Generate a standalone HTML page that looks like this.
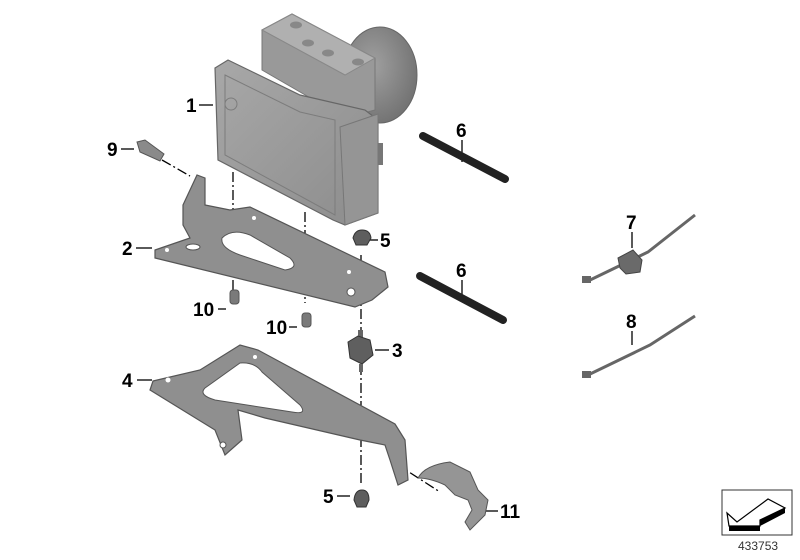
<!DOCTYPE html>
<html><head><meta charset="utf-8"><style>
html,body{margin:0;padding:0;background:#fff;}
svg{display:block;}
text{font-family:"Liberation Sans",sans-serif;font-weight:bold;font-size:19px;fill:#000;}
</style></head><body>
<svg width="800" height="560" viewBox="0 0 800 560" xmlns="http://www.w3.org/2000/svg">
<defs>
<linearGradient id="g1" x1="0" y1="0" x2="1" y2="1"><stop offset="0" stop-color="#a8a8a8"/><stop offset="1" stop-color="#8c8c8c"/></linearGradient>
<radialGradient id="g2" cx="0.4" cy="0.4" r="0.7"><stop offset="0" stop-color="#a0a0a0"/><stop offset="1" stop-color="#6e6e6e"/></radialGradient>
</defs>
<g stroke="#000" stroke-width="1.3" fill="none">
<line x1="199" y1="105" x2="213" y2="105"/>
<line x1="121" y1="149" x2="134" y2="149"/>
<line x1="462" y1="140" x2="462" y2="162"/>
<line x1="462" y1="280" x2="462" y2="300"/>
<line x1="364" y1="240" x2="378" y2="240"/>
<line x1="136" y1="248" x2="152" y2="248"/>
<line x1="632" y1="232" x2="632" y2="248"/>
<line x1="632" y1="331" x2="632" y2="345"/>
<line x1="375" y1="350" x2="389" y2="350"/>
<line x1="218" y1="309" x2="226" y2="309"/>
<line x1="289" y1="327" x2="297" y2="327"/>
<line x1="137" y1="380" x2="152" y2="380"/>
<line x1="337" y1="496" x2="350" y2="496"/>
<line x1="482" y1="511" x2="498" y2="511"/>
<g stroke-dasharray="10,3,2,3">
<line x1="233" y1="172" x2="233" y2="296"/>
<line x1="305" y1="212" x2="305" y2="303"/>
<line x1="361" y1="255" x2="361" y2="330"/>
<line x1="361" y1="365" x2="361" y2="485"/>
<line x1="162" y1="160" x2="190" y2="176"/>
<line x1="395" y1="463" x2="440" y2="492"/>
</g>
</g>
<ellipse cx="380" cy="75" rx="37" ry="48" fill="url(#g2)" stroke="#666"/>
<polygon points="262,30 292,14 375,58 375,110 345,118 262,70" fill="#999" stroke="#777"/>
<polygon points="262,30 292,14 375,58 345,75" fill="#b0b0b0" stroke="#888"/>
<ellipse cx="296" cy="25" rx="6" ry="3.5" fill="#888"/>
<ellipse cx="308" cy="43" rx="6" ry="3.5" fill="#888"/>
<ellipse cx="328" cy="53" rx="6" ry="3.5" fill="#888"/>
<ellipse cx="358" cy="62" rx="6" ry="3.5" fill="#888"/>
<polygon points="215,68 228,60 300,95 365,110 378,120 378,213 345,225 333,220 218,160" fill="url(#g1)" stroke="#666" stroke-width="1.2"/>
<polygon points="340,127 378,114 378,213 345,225" fill="#959595" stroke="#777"/>
<polygon points="225,75 300,112 335,120 335,215 225,155" fill="none" stroke="#7c7c7c"/>
<circle cx="231" cy="104" r="6" fill="none" stroke="#7c7c7c"/>
<rect x="378" y="143" width="5" height="22" fill="#777"/>
<polygon points="137,142 145,140 164,154 160,161 140,152" fill="#8a8a8a" stroke="#555"/>
<polygon points="155,250 190,238 183,225 183,205 197,175 205,178 205,205 230,210 250,207 385,272 388,287 372,300 355,307 155,258" fill="#8f8f8f" stroke="#555" stroke-width="1.2"/>
<path d="M222,238 Q232,228 250,235 L290,258 Q300,268 285,270 L240,255 Q220,248 222,238Z" fill="#fff" stroke="#555"/>
<ellipse cx="193" cy="247" rx="7" ry="3" fill="#fff" stroke="#555"/>
<circle cx="167" cy="250" r="2" fill="#fff"/><circle cx="254" cy="218" r="2" fill="#fff"/><circle cx="349" cy="272" r="2" fill="#fff"/><circle cx="351" cy="292" r="4" fill="#fff" stroke="#555"/>
<rect x="230" y="290" width="9" height="14" rx="3" fill="#7a7a7a" stroke="#555"/>
<rect x="302" y="313" width="9" height="14" rx="3" fill="#7a7a7a" stroke="#555"/>
<path d="M353,238 Q355,230 362,230 Q370,230 371,238 L367,245 L356,245Z" fill="#5e5e5e" stroke="#333"/>
<rect x="358" y="330" width="5" height="10" fill="#666"/>
<polygon points="348,342 358,336 370,340 373,355 362,364 350,358" fill="#5f5f5f" stroke="#333"/>
<rect x="359" y="364" width="4" height="8" fill="#666"/>
<polygon points="153,381 200,370 240,345 258,350 395,424 405,440 408,480 398,485 390,460 385,445 360,440 265,418 238,410 242,440 225,455 215,430 150,390" fill="#8f8f8f" stroke="#555" stroke-width="1.2"/>
<path d="M205,388 L240,363 Q255,362 262,372 L300,405 Q308,415 292,412 L215,400 Q198,395 205,388Z" fill="#fff" stroke="#555"/>
<circle cx="168" cy="380" r="2.5" fill="#fff"/><circle cx="255" cy="357" r="2" fill="#fff"/><circle cx="223" cy="445" r="3" fill="#fff" stroke="#555"/>
<path d="M354,500 Q355,490 362,490 Q369,490 369,500 L366,507 L357,507Z" fill="#5e5e5e" stroke="#333"/>
<path d="M418,478 Q425,465 450,462 L470,472 L478,490 L488,500 L485,515 L470,530 L465,522 L472,510 L468,500 L455,495 L445,485 Q430,478 418,478Z" fill="#959595" stroke="#555"/>
<line x1="423" y1="136" x2="505" y2="179" stroke="#222" stroke-width="8" stroke-linecap="round"/>
<line x1="420" y1="276" x2="503" y2="320" stroke="#222" stroke-width="8" stroke-linecap="round"/>
<path d="M588,281 L648,252 L695,215" stroke="#666" stroke-width="3" fill="none"/>
<rect x="582" y="276" width="9" height="7" fill="#666"/>
<polygon points="618,258 633,250 642,260 640,272 626,274 620,268" fill="#6a6a6a" stroke="#444"/>
<path d="M588,375 L650,345 L695,316" stroke="#666" stroke-width="3" fill="none"/>
<rect x="582" y="371" width="9" height="7" fill="#666"/>
<text x="186" y="112">1</text>
<text x="107" y="156">9</text>
<text x="456" y="137">6</text>
<text x="380" y="247">5</text>
<text x="122" y="255">2</text>
<text x="456" y="277">6</text>
<text x="626" y="229">7</text>
<text x="392" y="357">3</text>
<text x="193" y="316">10</text>
<text x="266" y="334">10</text>
<text x="122" y="387">4</text>
<text x="626" y="328">8</text>
<text x="323" y="503">5</text>
<text x="500" y="518">11</text>
<rect x="722" y="490" width="70" height="45" fill="#fff" stroke="#333" stroke-width="1"/>
<polygon points="727,513 737,522 768,499 785,508 760,520 760,526 729,526" fill="#fff" stroke="#000" stroke-width="1.2"/>
<polygon points="729,526 760,526 760,531 729,531" fill="#000"/>
<polygon points="760,520 785,508 785,513 760,526" fill="#000"/>
<text x="738" y="550" style="font-weight:normal;font-size:12px;fill:#333">433753</text>
</svg>
</body></html>
